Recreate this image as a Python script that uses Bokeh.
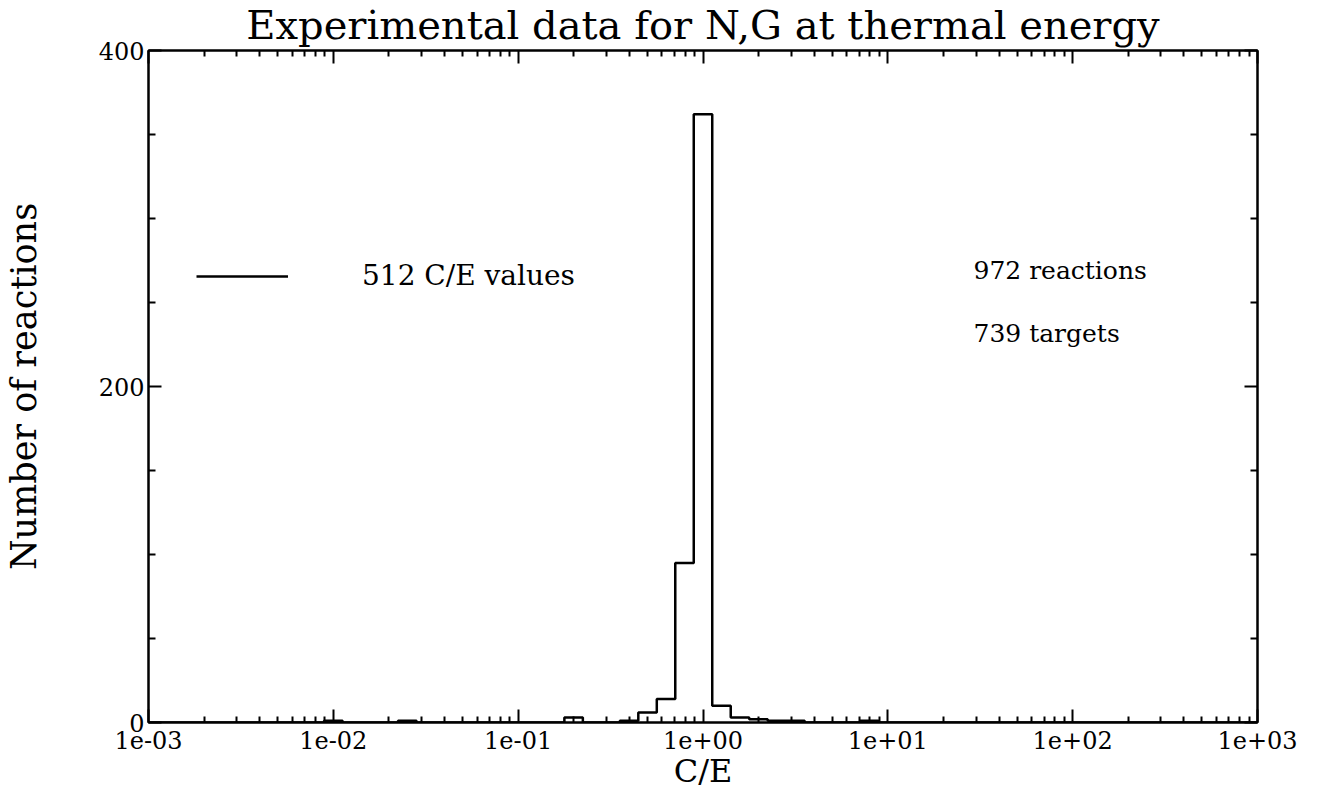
import numpy as np
from bokeh.plotting import figure
from bokeh.models import (Range1d, FixedTicker, LinearAxis, LogAxis, Label, Legend,
                          LegendItem, CustomJSTickFormatter, ColumnDataSource)
from bokeh.embed import file_html
from bokeh.resources import INLINE

# ---------------- data ----------------
TITLE = "Experimental data for N,G at thermal energy"
X_LABEL = "C/E"
Y_LABEL = "Number of reactions"
X_TICKS = [1e-3, 1e-2, 1e-1, 1e0, 1e1, 1e2, 1e3]
X_TICK_LABELS = ["1e-03", "1e-02", "1e-01", "1e+00", "1e+01", "1e+02", "1e+03"]
Y_TICKS = [0, 200, 400]
Y_MINOR = [50, 100, 150, 250, 300, 350]

# histogram: bins 0.1 decade wide in log10(C/E), centred on these values
BIN_WIDTH_DEC = 0.1
BIN_CENTER_LOG10 = [-2.0, -1.6, -0.7, -0.4, -0.3, -0.2, -0.1, 0.0, 0.1, 0.2, 0.3, 0.4, 0.5, 0.9]
BIN_COUNT = [1, 1, 3, 1, 6, 14, 95, 362, 10, 3, 2, 1, 1, 1]
N_VALUES = 512
N_REACTIONS = 972
N_TARGETS = 739

FONT = "DejaVu Serif"

# ---------------- build the full histogram grid ----------------
centers = np.round(np.arange(-30, 31) * BIN_WIDTH_DEC, 1)
counts = np.zeros(len(centers))
for c, n in zip(BIN_CENTER_LOG10, BIN_COUNT):
    counts[int(np.argmin(np.abs(centers - c)))] = n
edges = np.concatenate([centers - BIN_WIDTH_DEC / 2, [centers[-1] + BIN_WIDTH_DEC / 2]])
src = ColumnDataSource(dict(x=10 ** edges, y=np.concatenate([counts, [0]])))

X_MINOR = [m * 10.0 ** d for d in range(-3, 3) for m in range(2, 10)]

p = figure(width=1306, height=796, x_axis_type="log",
           x_range=Range1d(1e-3, 1e3), y_range=Range1d(0, 400),
           output_backend="svg", toolbar_location=None,
           min_border_left=139, min_border_right=49, min_border_top=50, min_border_bottom=74)
p.title.text = TITLE
p.title.align = "center"
p.title.vertical_align = "top"
p.title.text_font = FONT
p.title.text_font_size = "40px"
p.title.text_font_style = "normal"
p.title.text_color = "black"
p.title.standoff = 2
p.title.offset = 0
p.xgrid.visible = False
p.ygrid.visible = False
p.outline_line_color = "black"
p.outline_line_width = 2
p.background_fill_color = "white"
p.border_fill_color = "white"

xfmt = CustomJSTickFormatter(args=dict(tvals=X_TICKS, tlabels=X_TICK_LABELS), code="""
const i = tvals.findIndex(t => Math.abs(Math.log10(t) - Math.log10(tick)) < 1e-6);
return i >= 0 ? tlabels[i] : '';
""")
empty = CustomJSTickFormatter(code="return '';")

def style(ax, minor_len):
    ax.axis_line_width = 2
    ax.axis_line_color = "black"
    ax.major_tick_in = 13
    ax.major_tick_out = 0
    ax.minor_tick_in = minor_len
    ax.minor_tick_out = 0
    ax.major_tick_line_width = 2
    ax.minor_tick_line_width = 2
    ax.major_tick_line_color = "black"
    ax.minor_tick_line_color = "black"
    ax.major_label_text_font = FONT
    ax.major_label_text_font_size = "24px"
    ax.major_label_text_color = "black"
    ax.axis_label_text_font = FONT
    ax.axis_label_text_font_style = "normal"
    ax.axis_label_text_font_size = "32px"
    ax.axis_label_text_color = "black"

xax = p.xaxis[0]
xax.ticker = FixedTicker(ticks=X_TICKS, minor_ticks=X_MINOR)
xax.formatter = xfmt
xax.axis_label = X_LABEL
xax.major_label_standoff = 8
xax.axis_label_standoff = 0
style(xax, 6)

yax = p.yaxis[0]
yax.ticker = FixedTicker(ticks=Y_TICKS, minor_ticks=Y_MINOR)
yax.axis_label = Y_LABEL
yax.major_label_standoff = 4
yax.axis_label_standoff = 52
style(yax, 7)
yax.axis_label_text_font_size = "35px"

top = LogAxis(ticker=FixedTicker(ticks=X_TICKS, minor_ticks=X_MINOR), formatter=empty)
style(top, 6)
top.major_label_text_font_size = "1px"
top.major_label_standoff = 0
p.add_layout(top, "above")

right = LinearAxis(ticker=FixedTicker(ticks=Y_TICKS, minor_ticks=Y_MINOR), formatter=empty)
style(right, 7)
right.major_label_text_font_size = "1px"
right.major_label_standoff = 0
p.add_layout(right, "right")

r = p.step(x="x", y="y", source=src, mode="after", line_color="black", line_width=2.5)

legend = Legend(items=[LegendItem(label=f"{N_VALUES} C/E values", renderers=[r])],
                location=(48, 430), glyph_width=92, glyph_height=30, label_height=30,
                label_standoff=74, padding=0, margin=0, spacing=0,
                border_line_color=None, background_fill_alpha=0,
                label_text_font=FONT, label_text_font_size="28px", label_text_color="black")
p.add_layout(legend)

p.add_layout(Label(x=825, y=452, x_units="screen", y_units="screen", text=f"{N_REACTIONS} reactions",
                   text_align="left", text_baseline="middle", text_font=FONT,
                   text_font_size="25px", text_color="black"))
p.add_layout(Label(x=825, y=389, x_units="screen", y_units="screen", text=f"{N_TARGETS} targets",
                   text_align="left", text_baseline="middle", text_font=FONT,
                   text_font_size="25px", text_color="black"))

open("out.html", "w").write(file_html(p, INLINE))
